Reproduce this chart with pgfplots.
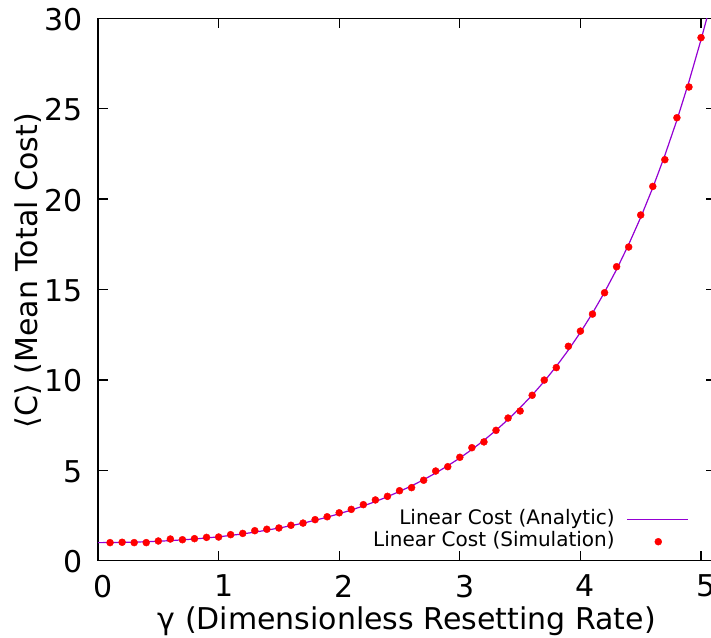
\documentclass[border=0pt]{standalone}
\usepackage{pgfplots}
\pgfplotsset{compat=1.18}
\usepackage{fontspec}
\setmainfont{DejaVu Sans}
\definecolor{gpviolet}{HTML}{9400D3}
\definecolor{gpred}{HTML}{FF0000}

\pgfplotsset{
  mylineleg/.style={legend image code/.code={\draw[##1, gpviolet, line width=1.2pt] (0pt,0pt) -- (61pt,0pt);}},
  mymarkleg/.style={legend image code/.code={\draw[mark repeat=2,mark phase=2,##1] plot coordinates {(0pt,0pt) (31pt,0pt) (61pt,0pt)};}},
}

\pgfplotstableread{
g C
0.0 1.000
0.1 1.003
0.2 1.012
0.3 1.028
0.4 1.049
0.5 1.077
0.6 1.111
0.7 1.152
0.8 1.201
0.9 1.258
1.0 1.323
1.1 1.397
1.2 1.483
1.3 1.581
1.4 1.688
1.5 1.806
1.6 1.935
1.7 2.078
1.8 2.236
1.9 2.406
2.0 2.600
2.1 2.800
2.2 3.030
2.3 3.270
2.4 3.540
2.5 3.830
2.6 4.140
2.7 4.480
2.8 4.850
2.9 5.250
3.0 5.680
3.1 6.150
3.2 6.660
3.3 7.210
3.4 7.810
3.5 8.460
3.6 9.160
3.7 9.920
3.8 10.750
3.9 11.650
4.0 12.630
4.1 13.690
4.2 14.850
4.3 16.110
4.4 17.490
4.5 18.990
4.6 20.630
4.7 22.420
4.8 24.370
4.9 26.500
5.0 28.820
5.05 30.050
}\analytic

\pgfplotstableread{
g C
0.1 1.00
0.2 1.02
0.3 1.00
0.4 1.00
0.5 1.09
0.6 1.20
0.7 1.16
0.8 1.22
0.9 1.29
1.0 1.31
1.1 1.44
1.2 1.51
1.3 1.66
1.4 1.74
1.5 1.81
1.6 1.96
1.7 2.08
1.8 2.27
1.9 2.43
2.0 2.65
2.1 2.84
2.2 3.10
2.3 3.36
2.4 3.56
2.5 3.87
2.6 4.04
2.7 4.45
2.8 4.96
2.9 5.20
3.0 5.72
3.1 6.25
3.2 6.57
3.3 7.21
3.4 7.89
3.5 8.28
3.6 9.15
3.7 9.99
3.8 10.68
3.9 11.86
4.0 12.70
4.1 13.64
4.2 14.82
4.3 16.26
4.4 17.35
4.5 19.12
4.6 20.70
4.7 22.18
4.8 24.50
4.9 26.20
5.0 28.93
}\simulation

\begin{document}
\begin{tikzpicture}
\begin{axis}[
  name=ax,
  scale only axis,
  width=617.5pt, height=542.4pt,
  xmin=0, xmax=5.12, ymin=0, ymax=30,
  xtick={0,1,2,3,4,5}, ytick={0,5,10,15,20,25,30},
  tick align=inside,
  major tick length=10pt,
  axis line style={line width=1.5pt},
  every tick/.style={black, line width=1.3pt},
  tick label style={font=\fontsize{30}{36}\selectfont, inner sep=0pt},
  xticklabel style={anchor=north, yshift=-14pt, xshift=5pt},
  yticklabel style={anchor=east, xshift=-15.5pt, yshift=-1pt},
  /pgf/number format/assume math mode=true,
  xlabel={γ (Dimensionless Resetting Rate)},
  ylabel={⟨C⟩ (Mean Total Cost)},
  label style={font=\fontsize{30}{36}\selectfont, inner sep=0pt},
  xlabel style={at={(axis description cs:0.5,-0.1272)}, anchor=base},
  ylabel style={at={(axis description cs:-0.098,0.5347)}, anchor=base},
  legend plot pos=right,
  legend cell align=right,
  legend style={font=\fontsize{20}{24}\selectfont, draw=none, fill=none,
    inner sep=0pt, column sep=11pt, row sep=0pt,
    nodes={inner sep=1pt, text height=15pt, text depth=5pt},
    at={(0.9572,0.0553)}, anchor=east},
]
\addplot[gpviolet, line width=1.2pt, no markers, mylineleg]
  table[x=g,y=C] {\analytic};
\addlegendentry{Linear Cost (Analytic)}
\addplot[only marks, mark=*, mark size=3.5pt, gpred, mark options={draw=gpred, fill=gpred}, mymarkleg]
  table[x=g,y=C] {\simulation};
\addlegendentry{Linear Cost (Simulation)}
\end{axis}
\pgfresetboundingbox
\useasboundingbox ([shift={(-98pt,-76.3pt)}]ax.south west) rectangle ([shift={(613pt,560.7pt)}]ax.south west);
\end{tikzpicture}
\end{document}
